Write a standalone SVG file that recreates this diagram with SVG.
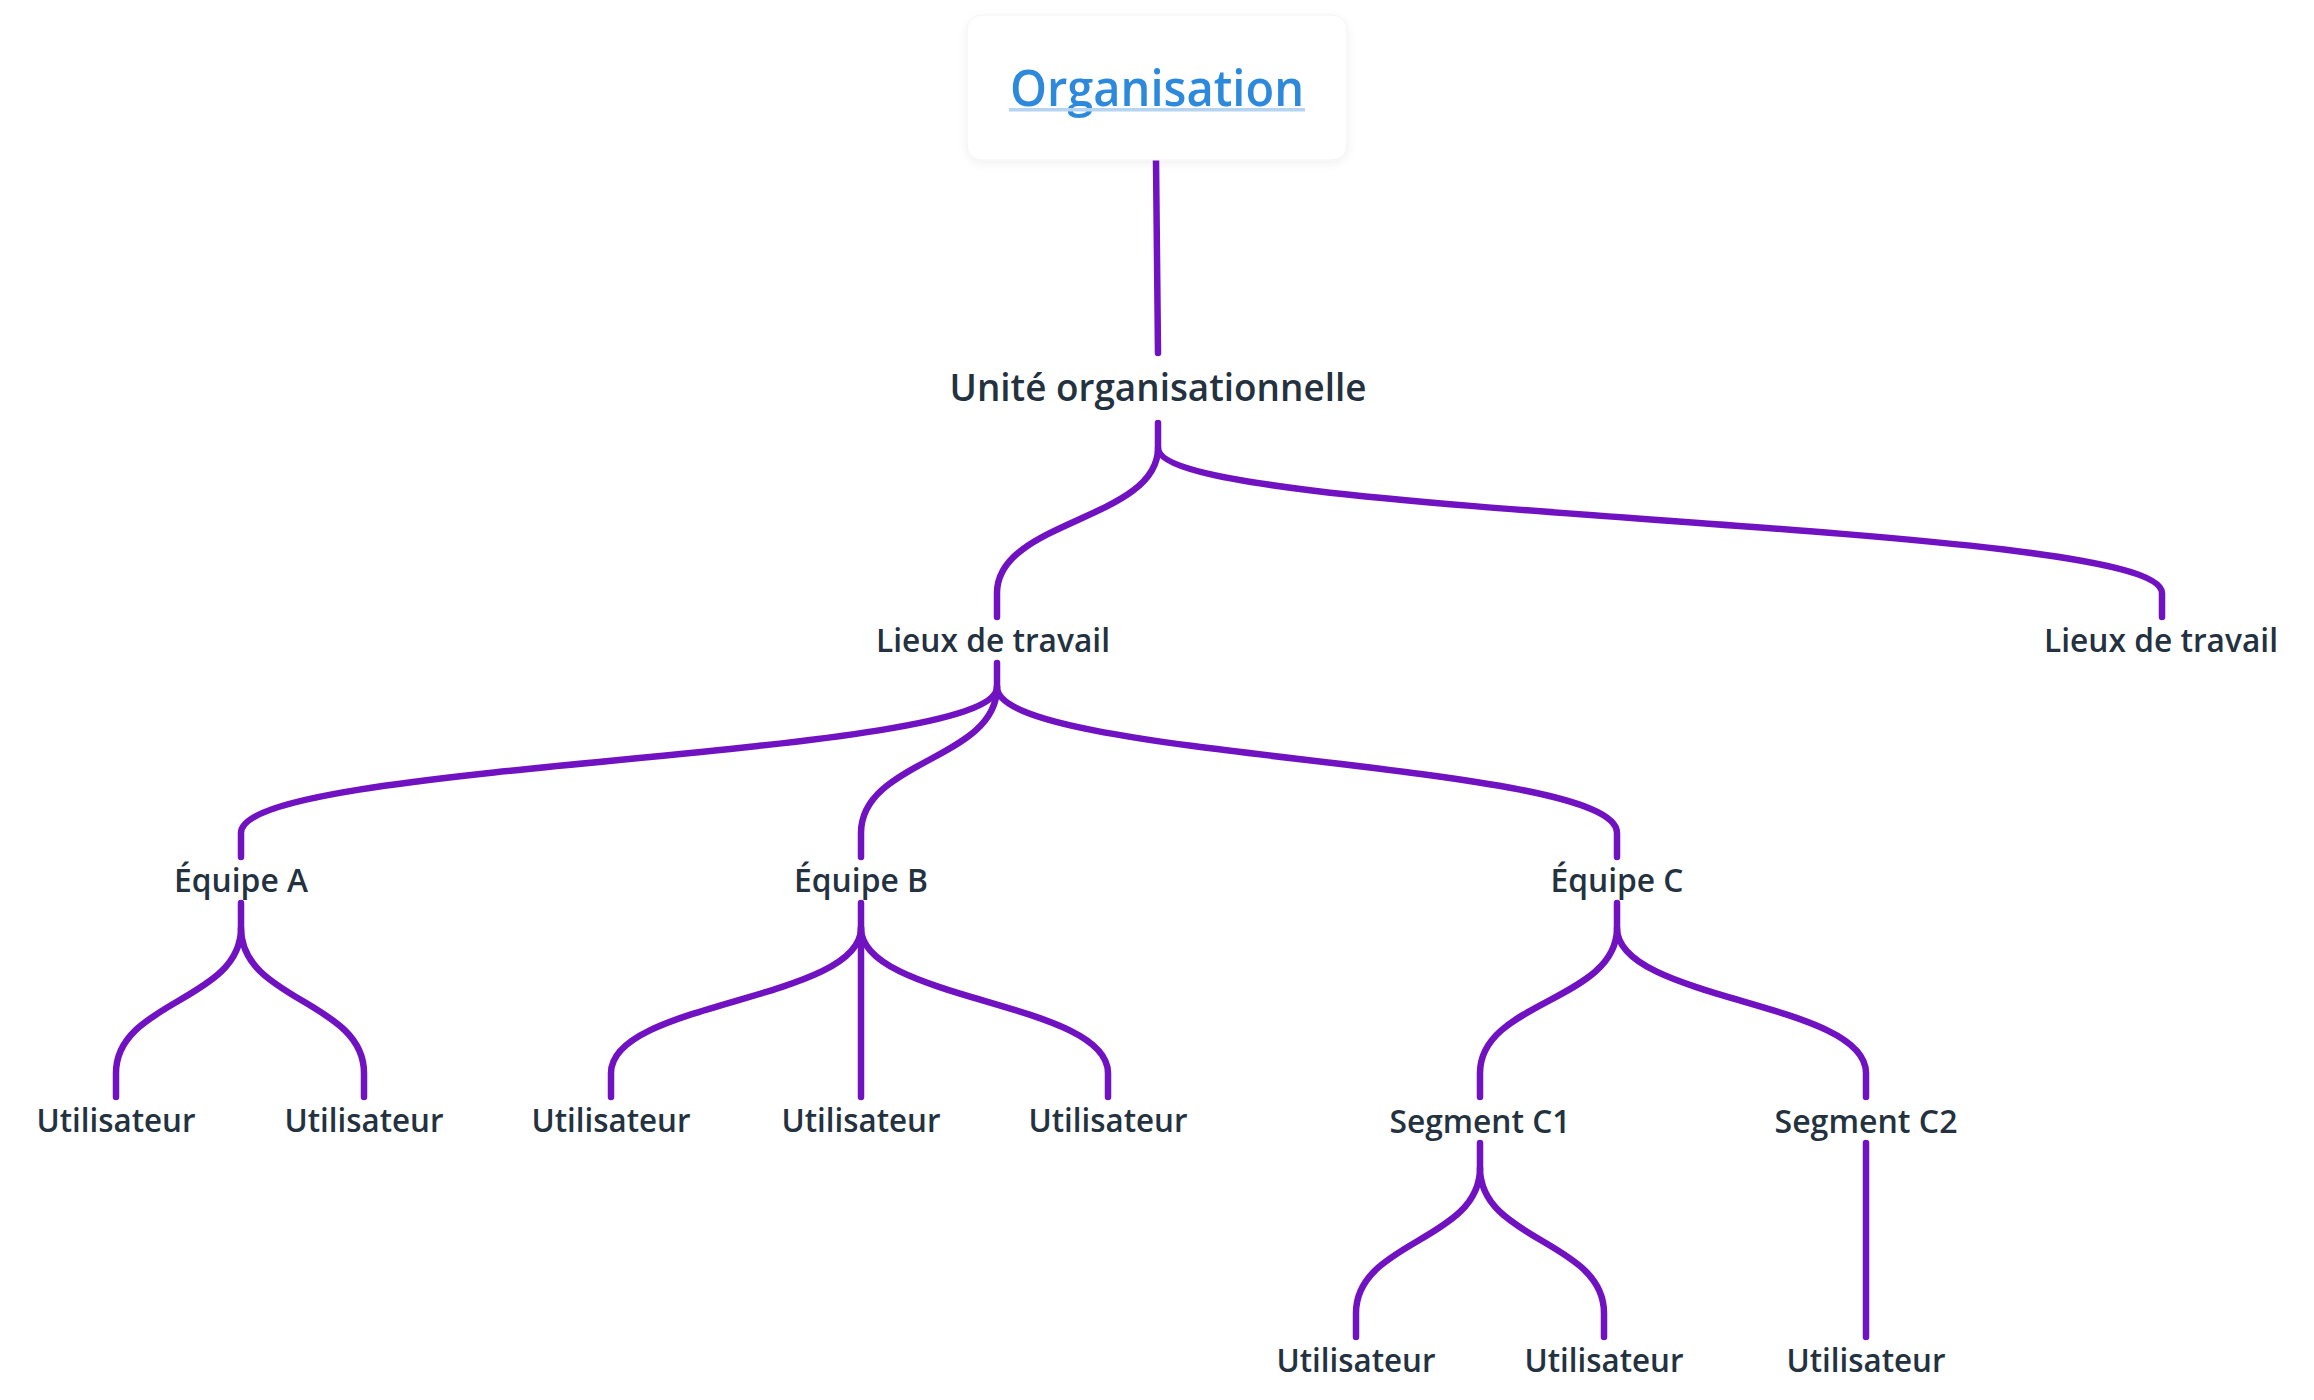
<svg xmlns="http://www.w3.org/2000/svg" width="2314" height="1400" viewBox="0 0 2314 1400">
<defs>
<filter id="sh" x="-10%" y="-20%" width="120%" height="150%">
<feDropShadow dx="0" dy="3" stdDeviation="5" flood-color="#000" flood-opacity="0.06"/>
</filter>
<style>
.t{font-family:"Open Sans","Noto Sans","Liberation Sans",sans-serif;font-weight:600;fill:#24323f;text-anchor:middle}
.l3{font-size:32px}
.c{fill:none;stroke:#7112c2;stroke-width:6.5;stroke-linecap:round;stroke-linejoin:round}
</style>
</defs>
<rect width="2314" height="1400" fill="#ffffff"/>
<g id="connectors">
<path class="c" d="M1156,160 L1158,353"/>
<path class="c" d="M1158,423 V448 C1158,520 997,520 997,593 V617"/>
<path class="c" d="M1158,448 C1158,520 2162,520 2162,593 V617"/>
<path class="c" d="M997,663 V687 C997,760 241,760 241,833 V857"/>
<path class="c" d="M997,687 C997,760 861,760 861,833 V857"/>
<path class="c" d="M997,687 C997,760 1617,760 1617,833 V857"/>
<path class="c" d="M241,903 V928 C241,1001 116,1001 116,1073 V1097"/>
<path class="c" d="M241,928 C241,1001 364,1001 364,1073 V1097"/>
<path class="c" d="M861,903 V928 C861,1001 611,1001 611,1073 V1097"/>
<path class="c" d="M861,928 V1097"/>
<path class="c" d="M861,928 C861,1001 1108,1001 1108,1073 V1097"/>
<path class="c" d="M1617,903 V928 C1617,1001 1480,1001 1480,1073 V1097"/>
<path class="c" d="M1617,928 C1617,1001 1866,1001 1866,1073 V1097"/>
<path class="c" d="M1480,1143 V1168 C1480,1241 1356,1241 1356,1313 V1337"/>
<path class="c" d="M1480,1168 C1480,1241 1604,1241 1604,1313 V1337"/>
<path class="c" d="M1866,1143 V1337"/>
</g>
<g id="n-organisation">
<rect x="967" y="15" width="380" height="145" rx="15" fill="#ffffff" stroke="#f3f3f3" stroke-width="1" filter="url(#sh)"/>
<text class="t" x="1157" y="106" font-size="50" style="fill:#2c89db" textLength="294" lengthAdjust="spacingAndGlyphs">Organisation</text>
<rect x="1009" y="108" width="296" height="3.5" fill="#b4d4f1"/>
</g>
<g id="n-unite"><text class="t" x="1158" y="401" font-size="37" textLength="417" lengthAdjust="spacingAndGlyphs">Unité organisationnelle</text></g>
<g id="n-lieux1"><text class="t l3" x="993" y="652" textLength="234" lengthAdjust="spacingAndGlyphs">Lieux de travail</text></g>
<g id="n-lieux2"><text class="t l3" x="2161" y="652" textLength="234" lengthAdjust="spacingAndGlyphs">Lieux de travail</text></g>
<g id="n-equipe-a"><text class="t l3" x="241" y="892" textLength="134" lengthAdjust="spacingAndGlyphs">Équipe A</text></g>
<g id="n-equipe-b"><text class="t l3" x="861" y="892" textLength="134" lengthAdjust="spacingAndGlyphs">Équipe B</text></g>
<g id="n-equipe-c"><text class="t l3" x="1617" y="892" textLength="133" lengthAdjust="spacingAndGlyphs">Équipe C</text></g>
<g id="n-user-a1"><text class="t l3" x="116" y="1132" textLength="159" lengthAdjust="spacingAndGlyphs">Utilisateur</text></g>
<g id="n-user-a2"><text class="t l3" x="364" y="1132" textLength="159" lengthAdjust="spacingAndGlyphs">Utilisateur</text></g>
<g id="n-user-b1"><text class="t l3" x="611" y="1132" textLength="159" lengthAdjust="spacingAndGlyphs">Utilisateur</text></g>
<g id="n-user-b2"><text class="t l3" x="861" y="1132" textLength="159" lengthAdjust="spacingAndGlyphs">Utilisateur</text></g>
<g id="n-user-b3"><text class="t l3" x="1108" y="1132" textLength="159" lengthAdjust="spacingAndGlyphs">Utilisateur</text></g>
<g id="n-segment-c1"><text class="t l3" x="1480" y="1133" textLength="181" lengthAdjust="spacingAndGlyphs">Segment C1</text></g>
<g id="n-segment-c2"><text class="t l3" x="1866" y="1133" textLength="183" lengthAdjust="spacingAndGlyphs">Segment C2</text></g>
<g id="n-user-c1a"><text class="t l3" x="1356" y="1372" textLength="159" lengthAdjust="spacingAndGlyphs">Utilisateur</text></g>
<g id="n-user-c1b"><text class="t l3" x="1604" y="1372" textLength="159" lengthAdjust="spacingAndGlyphs">Utilisateur</text></g>
<g id="n-user-c2"><text class="t l3" x="1866" y="1372" textLength="159" lengthAdjust="spacingAndGlyphs">Utilisateur</text></g>
</svg>
